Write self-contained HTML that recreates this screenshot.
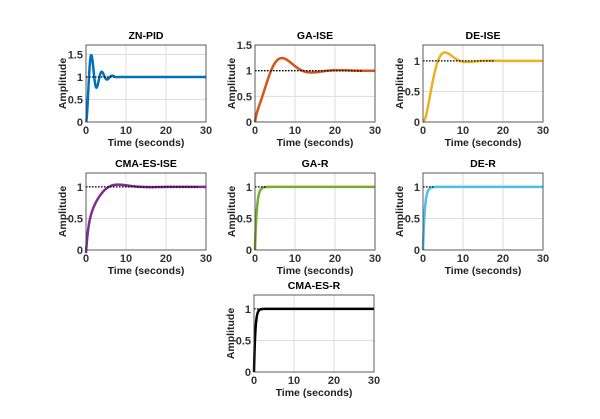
<!DOCTYPE html><html><head><style>body{margin:0;background:#fff}svg{display:block}text{font-family:"Liberation Sans",Arial,sans-serif;font-weight:bold}</style></head><body>
<svg id="s" width="600" height="419" xmlns="http://www.w3.org/2000/svg"></svg>
<script>
const s=document.getElementById('s');let h='';
function und(a,w){return t=>1-Math.exp(-a*t)*(Math.cos(w*t)+a/w*Math.sin(w*t));}
const P=[
 {t:'ZN-PID',x:86,y:45,ym:1.71,tk:[0,0.5,1,1.5],c:'#0072BD',f:t=>{const u=und(0.55,2.4)(t);return t>7?1+(u-1)*Math.exp(-(t-7)*2):u;},ds:7},
 {t:'GA-ISE',x:255,y:45,ym:1.5,tk:[0,0.5,1,1.5],c:'#D95319',f:t=>{let u=und(0.23,0.45)(t);return u+0.35*(1-Math.exp(-1.5*t))*Math.exp(-0.3*t)},ds:27},
 {t:'DE-ISE',x:423,y:45,ym:1.26,tk:[0,0.5,1],c:'#EDB120',f:und(0.36,0.57),ds:18},
 {t:'CMA-ES-ISE',x:86,y:173,ym:1.22,tk:[0,0.5,1],c:'#7E2F8E',f:t=>0.65*(1-Math.exp(-1.5*t))+0.35*und(0.3,0.39)(t)+0.05*und(0.3,0.39)(t)-0.05,ds:28},
 {t:'GA-R',x:255,y:173,ym:1.22,tk:[0,0.5,1],c:'#77AC30',f:t=>1-Math.exp(-2.2*t),ds:3},
 {t:'DE-R',x:423,y:173,ym:1.22,tk:[0,0.5,1],c:'#4DBEEE',f:t=>1-Math.exp(-2.2*t),ds:3},
 {t:'CMA-ES-R',x:254,y:295,ym:1.22,tk:[0,0.5,1],c:'#000',f:t=>1-Math.exp(-3*t),ds:2}
];
const W=120,H=77;
for(const p of P){
 const X=t=>p.x+t/30*W,Y=v=>p.y+H-v/p.ym*H;
 h+=`<rect x="${p.x}" y="${p.y}" width="${W}" height="${H}" fill="#fff"/>`;
 for(const t of [10,20])h+=`<line x1="${X(t)}" y1="${p.y}" x2="${X(t)}" y2="${p.y+H}" stroke="#ddd" stroke-width="1"/>`;
 for(const v of p.tk)if(v>0)h+=`<line x1="${p.x}" y1="${Y(v)}" x2="${p.x+W}" y2="${Y(v)}" stroke="#ddd" stroke-width="1"/>`;
 let d='';for(let i=0;i<=600;i++){const t=i*0.05;d+=(i?'L':'M')+X(t).toFixed(1)+','+Y(p.f(t)).toFixed(1);}
 h+=`<path d="${d}" fill="none" stroke="${p.c}" stroke-width="2.5"/>`;
 h+=`<line x1="${p.x}" y1="${Y(1)}" x2="${X(p.ds)}" y2="${Y(1)}" stroke="#000" stroke-width="1.3" stroke-dasharray="1.5,1.5"/>`;
 h+=`<rect x="${p.x}" y="${p.y}" width="${W}" height="${H}" fill="none" stroke="#333" stroke-width="0.8"/>`;
 for(const t of [0,10,20,30])h+=`<text x="${X(t)}" y="${p.y+H+12}" font-size="11" text-anchor="middle" fill="#333">${t}</text>`;
 for(const v of p.tk)h+=`<text x="${p.x-3}" y="${Y(v)+4}" font-size="11" text-anchor="end" fill="#333">${v}</text>`;
 h+=`<text x="${p.x+W/2}" y="${p.y+H+24}" font-size="10.5" text-anchor="middle" fill="#222">Time (seconds)</text>`;
 h+=`<text x="${p.x+W/2}" y="${p.y-6}" font-size="10.5" text-anchor="middle" fill="#000">${p.t}</text>`;
 h+=`<text transform="translate(${p.x-20},${p.y+H/2}) rotate(-90)" font-size="10.5" text-anchor="middle" fill="#222">Amplitude</text>`;
}
s.innerHTML=h;
</script></body></html>
